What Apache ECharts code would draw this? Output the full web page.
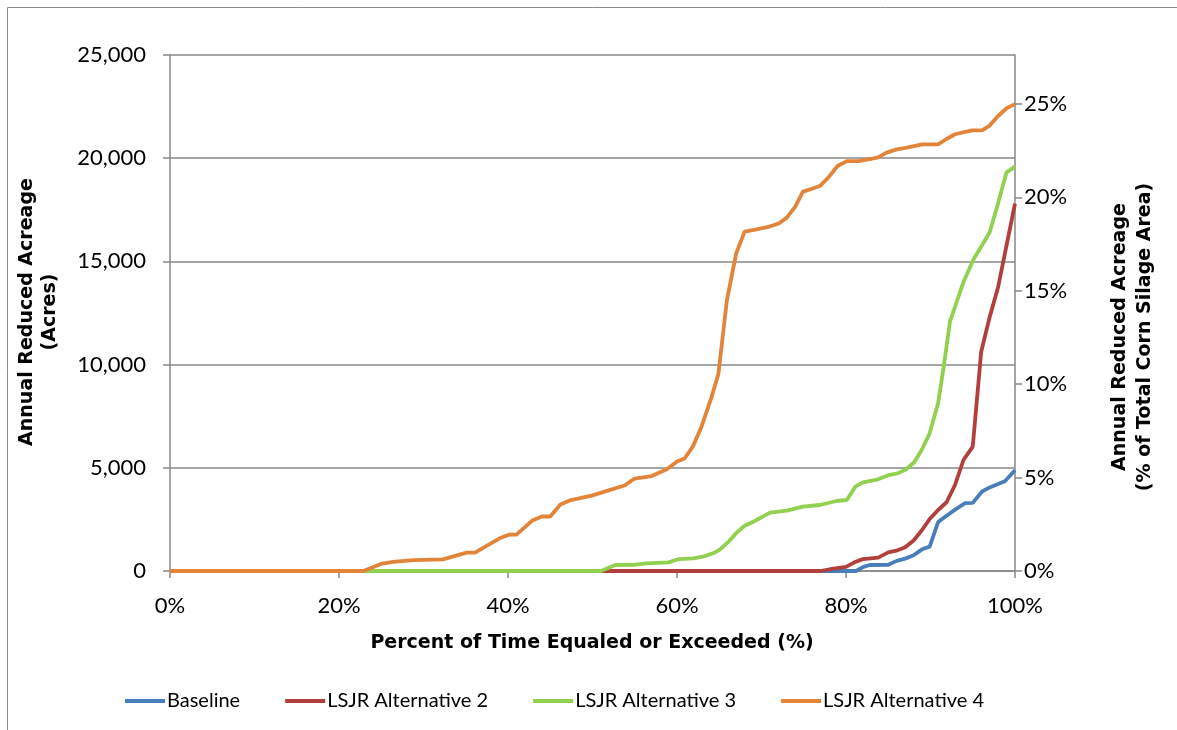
<!DOCTYPE html>
<html>
<head>
<meta charset="utf-8">
<script src="https://cdn.jsdelivr.net/npm/echarts@6/dist/echarts.min.js"></script>
<style>html,body{margin:0;padding:0;background:#fff}#c{width:1177px;height:730px}</style>
</head>
<body>
<div id="c"></div>
<script>
// Percent of time equaled or exceeded (x) and annual reduced acreage (y) per series
const seriesNames = ['Baseline', 'LSJR Alternative 2', 'LSJR Alternative 3', 'LSJR Alternative 4'];

const baselineX = [0, 81.2, 82, 82.8, 85, 86, 87, 88, 89, 89.9, 90.9, 91.9, 93, 94.1, 95, 96.1, 97, 98.8, 100];
const baselineY = [0, 0, 190, 290, 300, 490, 600, 760, 1050, 1180, 2370, 2680, 3000, 3290, 3300, 3850, 4050, 4350, 4880];

const alt2X = [0, 77, 78.5, 80, 81, 82, 83.8, 85, 86.1, 87, 88, 89, 89.9, 90.9, 91.9, 92.9, 93.9, 95, 96, 97, 98, 100];
const alt2Y = [0, 0, 120, 200, 420, 575, 650, 904, 1000, 1147, 1480, 1986, 2520, 2955, 3330, 4166, 5378, 6023, 10625, 12300, 13750, 17800];

const alt3X = [0, 51, 52.7, 54.8, 56.4, 59, 60.2, 61.9, 63.1, 64.5, 65.1, 66.1, 67.1, 68, 69.2, 71, 73, 74.9, 76.9, 78.9, 80.1, 81.1, 82, 83.8, 85, 86.1, 87.1, 88.1, 89, 89.9, 90.9, 91.6, 92.3, 92.9, 93.9, 95.1, 96.1, 97, 98, 99, 100];
const alt3Y = [0, 0, 290, 300, 370, 420, 580, 614, 695, 900, 1050, 1420, 1873, 2195, 2422, 2826, 2923, 3116, 3198, 3391, 3440, 4085, 4290, 4442, 4640, 4731, 4920, 5280, 5900, 6671, 8125, 10000, 12080, 12800, 14000, 15100, 15780, 16400, 17815, 19317, 19590];

const alt4X = [0, 22.9, 25.1, 26.4, 28.8, 32.3, 35.1, 36.1, 39.1, 40.1, 41, 42.9, 44, 45, 46.2, 47.3, 49.9, 52.1, 53.8, 55, 57, 58.8, 60, 60.9, 61.9, 62.9, 64.1, 64.9, 65.9, 67, 68, 69.4, 70.8, 72.1, 73, 74, 74.9, 75.9, 76.9, 77.9, 79, 80.1, 81.5, 82.8, 83.8, 84.8, 86, 87.2, 89, 90.9, 91.9, 92.9, 94.9, 96.1, 97, 98, 99, 100];
const alt4Y = [0, 0, 360, 440, 530, 560, 890, 890, 1600, 1760, 1760, 2450, 2640, 2640, 3220, 3420, 3650, 3930, 4140, 4480, 4600, 4925, 5300, 5450, 6050, 6990, 8440, 9550, 13100, 15380, 16440, 16550, 16670, 16850, 17120, 17650, 18380, 18510, 18650, 19060, 19620, 19860, 19860, 19950, 20040, 20270, 20430, 20510, 20670, 20670, 20930, 21160, 21350, 21350, 21580, 22040, 22420, 22620];

const xTicks = [0, 20, 40, 60, 80, 100];
const leftTicks = [0, 5000, 10000, 15000, 20000, 25000];
const rightTicks = [0, 5, 10, 15, 20, 25];
// right axis: 25% corresponds to ~22,626 acres
const rightMax = 27.62;

const colors = ['#4A7EBB', '#B23F3B', '#92D050', '#E2843A'];

function pairs(xs, ys) { return xs.map((x, i) => [x, ys[i]]); }
const datasets = [pairs(baselineX, baselineY), pairs(alt2X, alt2Y), pairs(alt3X, alt3Y), pairs(alt4X, alt4Y)];

const chart = echarts.init(document.getElementById('c'), null, {renderer: 'canvas'});
const axisGray = '#898989';
const tickFont = {fontFamily: 'Lato', fontSize: 22, color: '#000'};

chart.setOption({
  animation: false,
  backgroundColor: '#fff',
  color: colors,
  grid: {left: 170, top: 55, right: 162, bottom: 159, containLabel: false},
  legend: {
    left: 120, top: 686,
    itemWidth: 40, itemHeight: 4, itemGap: 45, icon: 'rect',
    textStyle: {fontFamily: 'Lato', fontSize: 20, color: '#000', padding: [0, 0, 0, -3]},
    data: seriesNames
  },
  xAxis: {
    type: 'value', min: 0, max: 100, interval: 20,
    axisLine: {lineStyle: {color: axisGray, width: 1.5}},
    axisTick: {show: true, length: 7, lineStyle: {color: axisGray, width: 1.5}, customValues: xTicks},
    axisLabel: Object.assign({margin: 24, formatter: '{value}%', customValues: xTicks}, tickFont),
    splitLine: {show: false}
  },
  yAxis: [
    {
      type: 'value', min: 0, max: 25000, interval: 5000, position: 'left',
      axisLine: {show: true, lineStyle: {color: axisGray, width: 1.5}},
      axisTick: {show: true, length: 7, lineStyle: {color: axisGray, width: 1.5}},
      axisLabel: Object.assign({margin: 24, formatter: v => v.toLocaleString('en-US')}, tickFont),
      splitLine: {show: true, lineStyle: {color: axisGray, width: 1.5}}
    },
    {
      type: 'value', min: 0, max: rightMax, position: 'right',
      axisLine: {show: true, lineStyle: {color: axisGray, width: 1.5}},
      axisTick: {show: true, length: 7, lineStyle: {color: axisGray, width: 1.5}, customValues: rightTicks},
      axisLabel: Object.assign({margin: 9, formatter: '{value}%', customValues: rightTicks}, tickFont),
      splitLine: {show: false}
    }
  ],
  graphic: [
    {type: 'rect', shape: {x: 7.5, y: 7.5, width: 1300, height: 900}, style: {fill: 'none', stroke: '#8c8c8c', lineWidth: 1}, silent: true},
    {type: 'text', x: 39, y: 312, rotation: Math.PI / 2,
      style: {text: 'Annual Reduced Acreage\n(Acres)', font: 'bold 19px "DejaVu Sans"', fill: '#000', textAlign: 'center', textVerticalAlign: 'middle', lineHeight: 23}},
    {type: 'text', x: 1133, y: 337, rotation: Math.PI / 2,
      style: {text: 'Annual Reduced Acreage\n(% of Total Corn Silage Area)', font: 'bold 19px "DejaVu Sans"', fill: '#000', textAlign: 'center', textVerticalAlign: 'middle', lineHeight: 25}},
    {type: 'text', x: 592, y: 643,
      style: {text: 'Percent of Time Equaled or Exceeded (%)', font: 'bold 19px "DejaVu Sans"', fill: '#000', textAlign: 'center', textVerticalAlign: 'middle'}}
  ],
  series: seriesNames.map((name, i) => ({
    name: name, type: 'line', yAxisIndex: 0,
    data: datasets[i], showSymbol: false, symbol: 'none',
    lineStyle: {width: 3.8, color: colors[i]},
    itemStyle: {color: colors[i]},
    z: 2 + i
  }))
});
</script>
</body>
</html>
